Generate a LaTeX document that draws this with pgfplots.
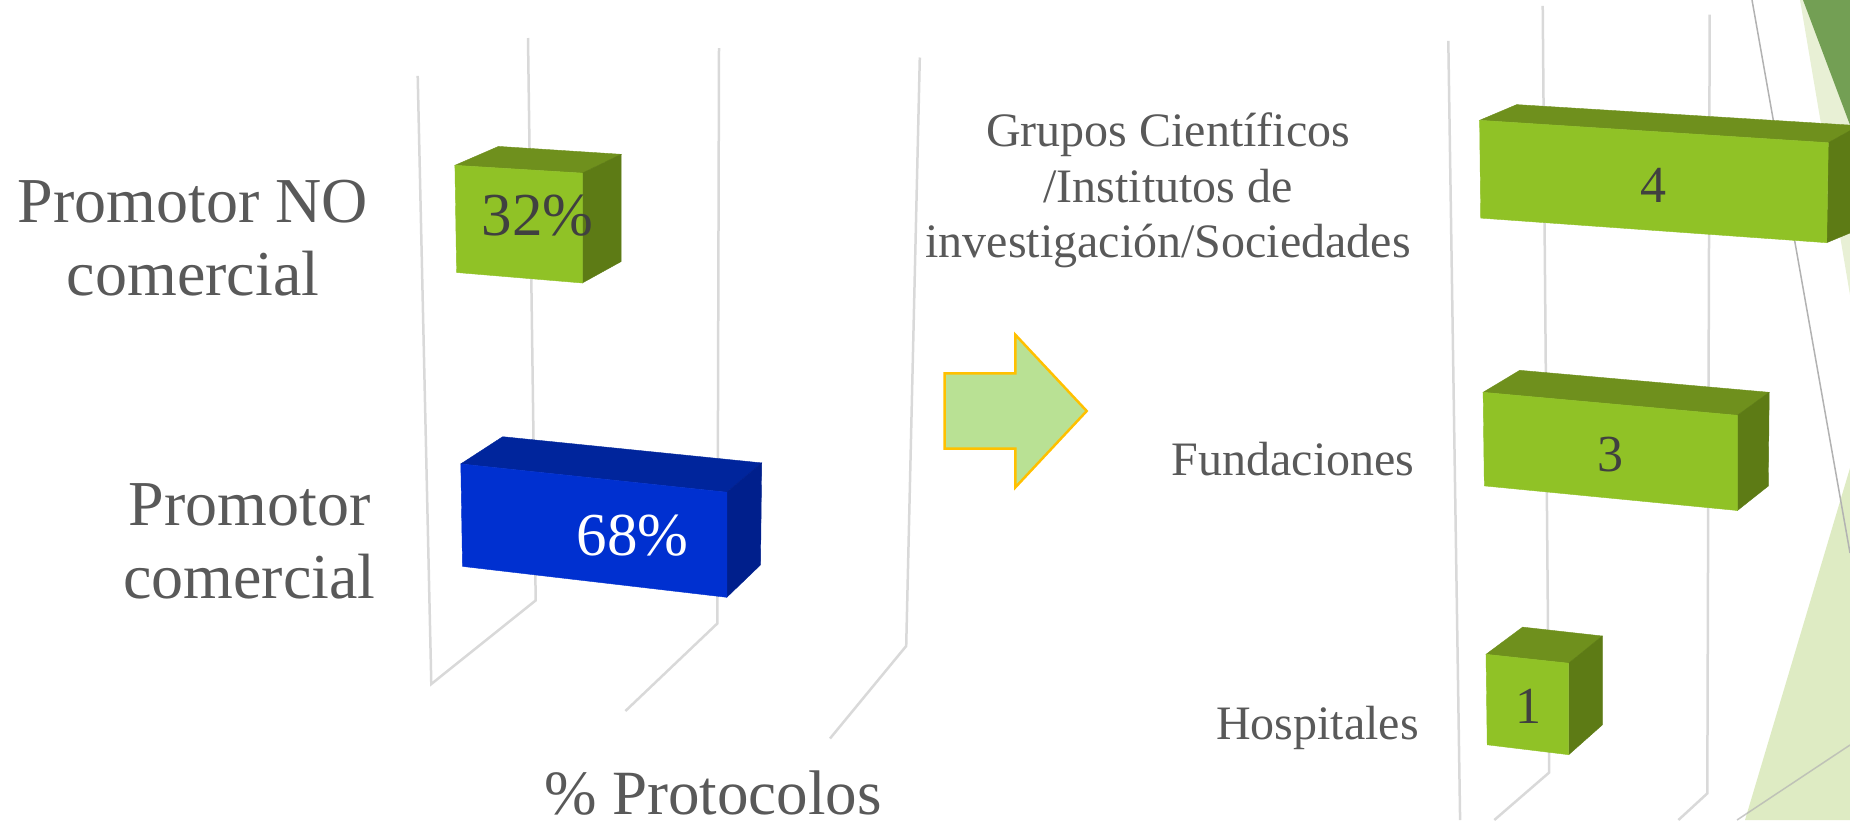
\documentclass[border=0pt]{standalone}
\usepackage{fontspec}
\setmainfont{Liberation Serif}
\usepackage{pgfplots}
\pgfplotsset{compat=1.18}

\definecolor{barfront}{HTML}{90C226}
\definecolor{bartop}{HTML}{6F901D}
\definecolor{barside}{HTML}{5D7B15}
\definecolor{bluefront}{HTML}{0030D0}
\definecolor{bluetop}{HTML}{00259C}
\definecolor{blueside}{HTML}{001F8C}
\definecolor{gridc}{HTML}{D9D9D9}
\definecolor{txt}{HTML}{595959}
\definecolor{lbl}{HTML}{404040}
\definecolor{decopale}{HTML}{E8F0D5}
\definecolor{decodark}{HTML}{739F54}
\definecolor{decolight}{HTML}{DEEBC3}
\definecolor{arrowfill}{HTML}{B9E194}
\definecolor{gold}{HTML}{FFC000}

\tikzset{
  big/.style={font=\fontsize{64}{64}\selectfont, text=txt, anchor=base, inner sep=0pt},
  small/.style={font=\fontsize{48}{48}\selectfont, text=txt, anchor=base, inner sep=0pt},
  lab/.style={font=\fontsize{61}{61}\selectfont, text=lbl, anchor=base, inner sep=0pt},
  face/.style={fill=#1, draw=#1, line width=0.4pt},
}

\begin{document}
\begin{tikzpicture}
\begin{axis}[
    scale only axis,
    width=1850pt, height=820pt,
    xmin=0, xmax=1850, ymin=0, ymax=820,
    y dir=reverse,
    hide axis,
]
% decoration of the slide, right edge
\addplot[fill=decopale, draw=none] coordinates {(1800,0) (1850,0) (1850,295)} --cycle;
\addplot[fill=decodark, draw=none] coordinates {(1803,0) (1850,0) (1850,125)} --cycle;
\addplot[fill=decolight, draw=none] coordinates {(1745,820) (1850,468) (1850,820)} --cycle;
\addplot[color=gray!60, line width=1.5pt] coordinates {(1752,0) (1850,553)};
\addplot[color=gray!60, opacity=0.7, line width=1.5pt] coordinates {(1737,820) (1850,745)};

% gridlines, left chart
\addplot[color=gridc, line width=2.5pt] coordinates {(417.7,75.8) (431.3,684) (535.7,600.4) (528,38)};
\addplot[color=gridc, line width=2.5pt] coordinates {(719,48) (717.4,623.4) (625.4,711)};
\addplot[color=gridc, line width=2.5pt] coordinates {(919.8,57.5) (906.2,646) (830,738.5)};

% gridlines, right chart
\addplot[color=gridc, line width=2.5pt] coordinates {(1448.3,40.8) (1460.1,820)};
\addplot[color=gridc, line width=2.5pt] coordinates {(1542.7,5.8) (1549.2,772.5) (1494.3,820)};
\addplot[color=gridc, line width=2.5pt] coordinates {(1709.7,14.6) (1707.3,793.4) (1678.4,820)};

% Promotor NO comercial, 32%
\addplot[face=bartop] coordinates {(454.9,165.3) (498.5,146.4) (621.2,154.3) (582.3,173.1)} --cycle;
\addplot[face=barside] coordinates {(582.3,173.1) (621.2,154.3) (621.2,261.5) (582.3,283)} --cycle;
\addplot[face=barfront] coordinates {(454.9,165.3) (582.3,173.1) (582.3,283) (456.6,272.5)} --cycle;

% Promotor comercial, 68%
\addplot[face=bluetop] coordinates {(460.8,463.9) (502.7,436.7) (761.7,462.9) (726.8,492.2)} --cycle;
\addplot[face=blueside] coordinates {(726.8,492.2) (761.7,462.9) (760.5,564.9) (726.8,597.3)} --cycle;
\addplot[face=bluefront] coordinates {(460.8,463.9) (726.8,492.2) (726.8,597.3) (462.5,566.4)} --cycle;

% Grupos, 4
\addplot[face=bartop] coordinates {(1479.6,120.3) (1516.7,104.6) (1848.5,125) (1850,125) (1850,130.7) (1828.3,142.7)} --cycle;
\addplot[face=barside] coordinates {(1828.3,142.7) (1850,130.7) (1850,233) (1826.7,242.7)} --cycle;
\addplot[face=barfront] coordinates {(1479.6,120.3) (1828.3,142.7) (1826.7,242.7) (1480.7,218.1)} --cycle;

% Fundaciones, 3
\addplot[face=bartop] coordinates {(1483.1,392.3) (1519.7,370.3) (1769.2,392.3) (1737.4,415.3)} --cycle;
\addplot[face=barside] coordinates {(1737.4,415.3) (1769.2,392.3) (1768.3,486) (1737.4,510.5)} --cycle;
\addplot[face=barfront] coordinates {(1483.1,392.3) (1737.4,415.3) (1737.4,510.5) (1484.3,485.9)} --cycle;

% Hospitales, 1
\addplot[face=bartop] coordinates {(1486,654.3) (1522.6,627.1) (1602.3,636) (1568.7,663.2)} --cycle;
\addplot[face=barside] coordinates {(1568.7,663.2) (1602.3,636) (1602.3,724.9) (1568.7,754.7)} --cycle;
\addplot[face=barfront] coordinates {(1486,654.3) (1568.7,663.2) (1568.7,754.7) (1487.2,744.8)} --cycle;

% arrow between the charts
\addplot[fill=arrowfill, draw=gold, line width=2.5pt] coordinates {(944.5,373.4) (1015.3,373.4) (1015.3,334.7) (1086.7,411) (1015.3,487.4) (1015.3,448.7) (944.5,448.7)} --cycle;

% category labels
\node[big] at (axis cs:193,222.2) {Promotor NO};
\node[big] at (axis cs:193,295.4) {comercial};
\node[big] at (axis cs:249.5,525.5) {Promotor};
\node[big] at (axis cs:249.5,598.5) {comercial};
\node[big, anchor=base east, font=\fontsize{63}{63}\selectfont] at (axis cs:882,814.7) {\% Protocolos};

\node[small] at (axis cs:1168,146) {Grupos Científicos};
\node[small] at (axis cs:1168,202) {/Institutos de};
\node[small] at (axis cs:1168,257) {investigación/Sociedades};
\node[small, anchor=base east] at (axis cs:1414.5,475) {Fundaciones};
\node[small, anchor=base east] at (axis cs:1419,739) {Hospitales};

% data labels
\node[lab] at (axis cs:537.7,235.7) {32\%};
\node[lab, text=white] at (axis cs:632.5,555.8) {68\%};
\node[lab, font=\fontsize{52}{52}\selectfont] at (axis cs:1653,202) {4};
\node[lab, font=\fontsize{52}{52}\selectfont] at (axis cs:1610,471.2) {3};
\node[lab, font=\fontsize{52}{52}\selectfont] at (axis cs:1528,723.3) {1};
\end{axis}
% hide axis leaves the box tight round the ink, so fix it to the full frame
\pgfresetboundingbox
\useasboundingbox (0,0) rectangle (1850pt,820pt);
\end{tikzpicture}
\end{document}
